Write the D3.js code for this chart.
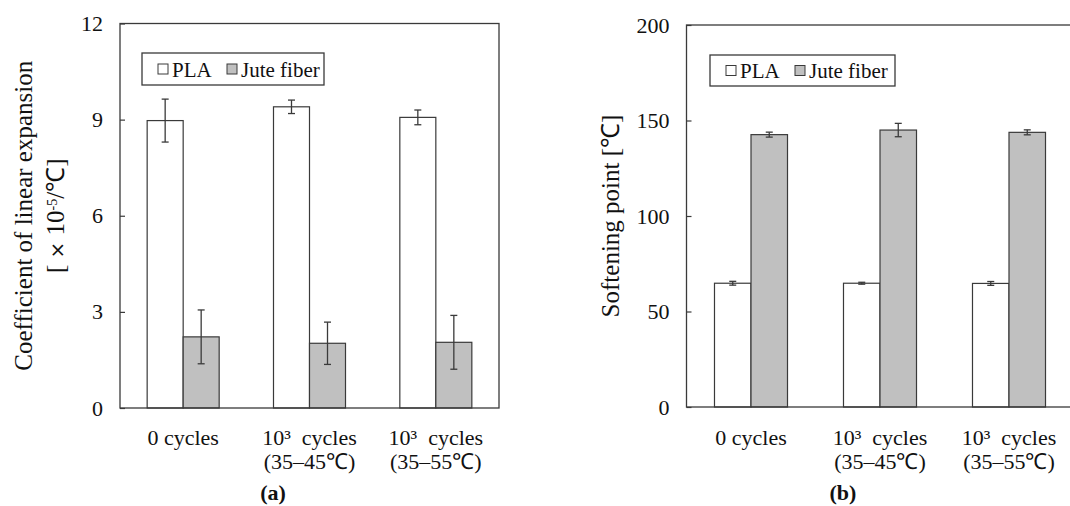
<!DOCTYPE html>
<html>
<head>
<meta charset="utf-8">
<script src="https://cdn.jsdelivr.net/npm/d3@7"></script>
<style>
  html, body { margin: 0; padding: 0; background: #fff; }
  svg { display: block; }
  text { white-space: pre; }
</style>
</head>
<body>
<svg id="chart" width="1070" height="506"></svg>
<script>
// categories and series
const categoryLines = [
    ["0 cycles"],
    ["10\u00b3  cycles", "(35\u201345\u2103)"],
    ["10\u00b3  cycles", "(35\u201355\u2103)"],
];
const seriesNames = ["PLA", "Jute fiber"];

// (a) coefficient of linear expansion [x10^-5/C]
const expansionPLA = [8.97, 9.40, 9.07];
const expansionPLAErr = [0.67, 0.21, 0.23];
const expansionJute = [2.22, 2.02, 2.05];
const expansionJuteErr = [0.84, 0.66, 0.84];
const expansionTicks = [0, 3, 6, 9, 12];

// (b) softening point [C]
const softeningPLA = [64.8, 64.8, 64.7];
const softeningPLAErr = [1.0, 0.5, 1.0];
const softeningJute = [142.6, 145.0, 143.8];
const softeningJuteErr = [1.3, 3.5, 1.3];
const softeningTicks = [0, 50, 100, 150, 200];

const fills = { "PLA": "#ffffff", "Jute fiber": "#c0c0c0" };
const lineColor = "#3a3a3a";
const serif = "Liberation Serif, Times New Roman, serif";

const svg = d3.select("#chart");
svg.append("rect").attr("width", 1070).attr("height", 506).attr("fill", "#fff");
const root = svg.append("g").attr("font-family", serif);

function buildRows(pla, plaErr, jute, juteErr) {
    return categoryLines.map((c, i) => ({
        idx: i,
        values: [
            { series: "PLA", value: pla[i], err: plaErr[i] },
            { series: "Jute fiber", value: jute[i], err: juteErr[i] },
        ],
    }));
}

function renderPanel(opts) {
    const { left, right, top, bottom, domainMax, ticks, rows, legend, panelLabel, yLabel } = opts;
    const g = root.append("g");
    const y = d3.scaleLinear().domain([0, domainMax]).range([bottom, top]);
    const x0 = d3.scaleBand().domain(d3.range(categoryLines.length)).range([left, right]);
    const bw = x0.bandwidth();
    const barW = bw * opts.barFrac;
    const x1 = d3.scaleBand().domain(seriesNames).range([bw / 2 - barW, bw / 2 + barW]);

    // y axis ticks (inside)
    const yAxis = d3.axisLeft(y).tickValues(ticks).tickSize(-5).tickPadding(17).tickFormat(d3.format("d"));
    const ax = g.append("g").attr("transform", "translate(" + left + ",0)").call(yAxis);
    ax.attr("font-family", serif).attr("font-size", 22);
    ax.select(".domain").remove();
    ax.selectAll(".tick line").attr("stroke", lineColor).attr("stroke-width", 1.2);
    ax.selectAll(".tick text").attr("fill", "#111");

    // bars
    const groups = g.selectAll(".grp")
        .data(rows)
        .join("g")
        .attr("class", "grp")
        .attr("transform", (d) => "translate(" + x0(d.idx) + ",0)");
    groups.selectAll("rect")
        .data((d) => d.values)
        .join("rect")
        .attr("x", (d) => x1(d.series))
        .attr("width", x1.bandwidth())
        .attr("y", (d) => y(d.value))
        .attr("height", (d) => y(0) - y(d.value))
        .attr("fill", (d) => fills[d.series])
        .attr("stroke", lineColor)
        .attr("stroke-width", 1.2);

    // error bars
    const eb = groups.selectAll(".err")
        .data((d) => d.values)
        .join("g")
        .attr("class", "err")
        .attr("stroke", lineColor)
        .attr("stroke-width", 1.3);
    const cx = (d) => x1(d.series) + x1.bandwidth() / 2;
    eb.append("line")
        .attr("x1", cx).attr("x2", cx)
        .attr("y1", (d) => y(d.value + d.err))
        .attr("y2", (d) => y(d.value - d.err));
    eb.append("line")
        .attr("x1", (d) => cx(d) - 3.5).attr("x2", (d) => cx(d) + 3.5)
        .attr("y1", (d) => y(d.value + d.err)).attr("y2", (d) => y(d.value + d.err));
    eb.append("line")
        .attr("x1", (d) => cx(d) - 3.5).attr("x2", (d) => cx(d) + 3.5)
        .attr("y1", (d) => y(d.value - d.err)).attr("y2", (d) => y(d.value - d.err));

    // plot frame
    g.append("rect")
        .attr("x", left).attr("y", top)
        .attr("width", right - left).attr("height", bottom - top)
        .attr("fill", "none")
        .attr("stroke", lineColor)
        .attr("stroke-width", 1.3);

    // category labels
    const labels = g.selectAll(".cat")
        .data(categoryLines)
        .join("text")
        .attr("class", "cat")
        .attr("text-anchor", "middle")
        .attr("fill", "#111")
        .attr("font-size", 22);
    labels.selectAll("tspan")
        .data((d, i) => d.map((line) => ({ line, i })))
        .join("tspan")
        .attr("x", (d) => x0(d.i) + bw / 2)
        .attr("y", (d, j) => 445 + j * 24)
        .text((d) => d.line);

    g.append("text")
        .attr("x", panelLabel.x).attr("y", 500)
        .attr("text-anchor", "middle")
        .attr("font-weight", "bold")
        .attr("fill", "#111")
        .attr("font-size", 22)
        .text(panelLabel.text);

    // legend
    const lg = g.append("g").attr("transform", "translate(" + legend.x + "," + legend.y + ")");
    lg.append("rect")
        .attr("width", legend.w).attr("height", legend.h)
        .attr("fill", "#fff").attr("stroke", lineColor).attr("stroke-width", 1.3);
    seriesNames.forEach((name, i) => {
        lg.append("rect")
            .attr("x", legend.items[i]).attr("y", legend.h / 2 - 5)
            .attr("width", 10).attr("height", 10)
            .attr("fill", fills[name]).attr("stroke", lineColor).attr("stroke-width", 1);
        lg.append("text")
            .attr("x", legend.items[i] + 14).attr("y", legend.h / 2 + 7.5)
            .attr("fill", "#111")
            .attr("font-size", 21)
            .text(name);
    });

    // y label
    const cy = (top + bottom) / 2;
    yLabel.lines.forEach((lineParts, i) => {
        const t = g.append("text")
            .attr("transform", "translate(" + yLabel.base[i] + "," + cy + ") rotate(-90)")
            .attr("text-anchor", "middle")
            .attr("fill", "#111")
            .attr("font-size", yLabel.size);
        lineParts.forEach((p) => {
            const s = t.append("tspan").text(p.t);
            if (p.sup) s.attr("baseline-shift", "super").attr("font-size", 14);
            if (p.sans) s.attr("font-family", "DejaVu Sans, sans-serif").attr("font-size", 20);
        });
    });
}

renderPanel({
    left: 120, right: 499, top: 23.5, bottom: 408,
    domainMax: 12, ticks: expansionTicks, barFrac: 0.285,
    rows: buildRows(expansionPLA, expansionPLAErr, expansionJute, expansionJuteErr),
    legend: { x: 142, y: 53, w: 182, h: 32, items: [16, 85] },
    panelLabel: { x: 273, text: "(a)" },
    yLabel: {
        lines: [
            [{ t: "Coefficient of linear expansion" }],
            [{ t: "[ " }, { t: "\u00d7", sans: true }, { t: " 10" }, { t: "-5", sup: true }, { t: "/\u2103]" }],
        ],
        base: [32, 64],
        size: 25,
    },
});

renderPanel({
    left: 686.5, right: 1073.5, top: 25, bottom: 407,
    domainMax: 200, ticks: softeningTicks, barFrac: 0.283,
    rows: buildRows(softeningPLA, softeningPLAErr, softeningJute, softeningJuteErr),
    legend: { x: 710, y: 55, w: 185, h: 31, items: [16, 85] },
    panelLabel: { x: 843, text: "(b)" },
    yLabel: {
        lines: [[{ t: "Softening point [\u2103]" }]],
        base: [619],
        size: 25,
    },
});
</script>
</body>
</html>
